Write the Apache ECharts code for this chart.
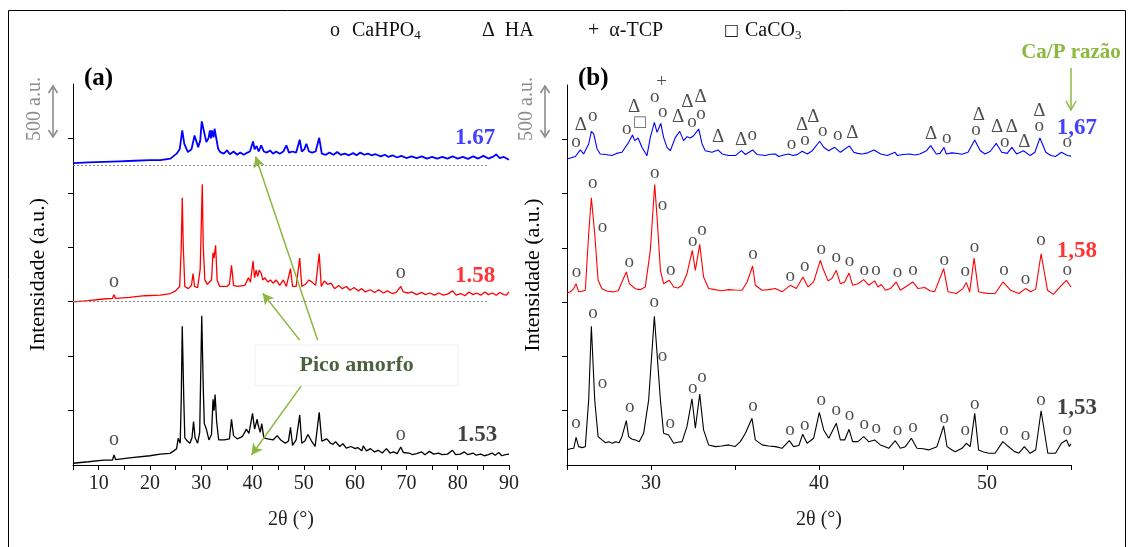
<!DOCTYPE html>
<html><head><meta charset="utf-8">
<script src="https://cdn.jsdelivr.net/npm/echarts@6/dist/echarts.min.js"></script>
<style>html,body{margin:0;padding:0;background:#fff}#c{width:1133px;height:547px}</style>
</head><body><div id="c"></div>
<script>
// ---------- DATA ----------
const SAMPLES_A = ['1.53', '1.58', '1.67'];
const SAMPLES_B = ['1,53', '1,58', '1,67'];
const X_TITLE = '2θ (°)';
const Y_TITLE = 'Intensidade (a.u.)';
const LEGEND = [['o', 'CaHPO', '4'], ['Δ', 'HA', ''], ['+', 'α-TCP', ''], ['□', 'CaCO', '3']];

// Panel (a): 2θ vs intensity (a.u., curves stacked with offsets)
const A_153 = [[5,16],[8,30],[11,45],[12.7,46],[13,92],[13.3,50],[16,65],[20,85],[22,100],[23.9,107],[24.5,125],[25.2,150],[25.5,245],[25.9,200],[26.1,600],[26.3,1275],[26.6,600],[26.8,250],[27.3,220],[27.8,200],[28.2,250],[28.5,398],[28.8,250],[29.3,200],[29.7,300],[30.1,1370],[30.4,700],[30.6,380],[31,330],[31.5,230],[32.0,280],[32.3,603],[32.5,500],[32.7,648],[33.0,400],[33.4,230],[34.5,230],[35.5,240],[35.9,419],[36.3,270],[37,240],[38,260],[38.8,330],[39.3,290],[40,474],[40.4,330],[40.9,420],[41.1,367],[41.5,300],[41.8,380],[42.2,250],[43,240],[44,230],[44.8,270],[45.5,230],[46.4,200],[47.0,220],[47.4,346],[47.8,180],[48.5,230],[49.2,459],[49.6,200],[50.2,220],[50.8,280],[51.5,220],[52.2,170],[53.0,483],[53.5,220],[54.5,240],[55.2,200],[55.7,190],[56.2,215],[57,170],[57.6,195],[58.3,155],[59.2,170],[60,150],[60.5,160],[61.3,130],[61.6,175],[62.2,130],[63,150],[63.8,120],[64.5,135],[65.3,110],[66.1,150],[66.8,110],[67.5,120],[68.2,105],[68.9,165],[69.4,115],[70.5,110],[71.2,95],[72,105],[73,120],[73.6,95],[74.5,125],[75.3,100],[76.2,110],[77,95],[78,100],[79,135],[79.6,95],[80.5,100],[81.3,120],[82,95],[83,110],[83.6,90],[84.5,100],[85.2,85],[86,95],[86.7,110],[87.3,90],[88,115],[88.6,85],[89.3,95],[90,100]];
const A_158 = [[5,1498],[8,1510],[11,1525],[12.7,1530],[13,1565],[13.3,1530],[16,1540],[19,1555],[22,1560],[24,1575],[25,1600],[25.8,1640],[26.1,2000],[26.3,2456],[26.5,2000],[26.8,1640],[27.5,1620],[28.1,1650],[28.4,1759],[28.7,1640],[29.3,1630],[29.8,1800],[30.2,2578],[30.4,2000],[30.7,1700],[31.2,1660],[32.0,1700],[32.3,1950],[32.5,1900],[32.8,2018],[33.1,1700],[33.6,1640],[35,1640],[35.5,1660],[35.9,1835],[36.3,1650],[37,1640],[38.5,1650],[39.2,1720],[39.6,1680],[40.1,1874],[40.4,1720],[40.7,1789],[41.0,1730],[41.3,1790],[41.7,1759],[42,1700],[42.4,1720],[43,1680],[43.5,1700],[44,1670],[44.6,1700],[45.3,1650],[46,1700],[46.6,1640],[47.4,1804],[47.8,1640],[48.5,1640],[49.2,1902],[49.6,1640],[50.3,1660],[51,1700],[51.6,1680],[52.3,1650],[53.0,1942],[53.4,1640],[54,1690],[54.6,1660],[55.3,1670],[56,1620],[56.8,1650],[57.5,1620],[58.3,1640],[59,1605],[59.8,1630],[60.6,1600],[61.3,1620],[62,1590],[63,1610],[63.8,1585],[64.6,1610],[65.5,1580],[66.3,1600],[67.2,1575],[68,1585],[68.9,1640],[69.4,1590],[70.3,1580],[71,1590],[72,1565],[73,1585],[73.7,1565],[74.5,1580],[75.5,1560],[76.3,1580],[77.2,1560],[78,1570],[79,1600],[79.7,1560],[80.6,1575],[81.4,1555],[82.2,1590],[83,1565],[83.7,1580],[84.5,1560],[85.3,1590],[86,1565],[86.8,1580],[87.5,1560],[88.2,1585],[89,1565],[89.5,1560],[90,1590]];
const A_167 = [[5,2773],[8,2780],[11,2785],[14,2790],[17,2795],[20,2800],[22,2800],[24,2814],[25.2,2860],[25.8,2900],[26.3,3073],[26.7,2950],[27.4,2874],[28.1,2900],[28.7,3027],[29.0,3040],[29.4,2920],[29.8,2980],[30.1,3156],[30.4,3150],[31,2966],[31.4,3000],[31.7,3073],[31.9,3000],[32.1,3073],[32.4,3010],[32.6,3089],[33.3,2905],[33.7,2874],[34.4,2860],[35,2890],[35.6,2855],[36.3,2880],[37,2850],[37.6,2870],[38.3,2850],[39,2870],[39.5,2880],[40.1,2972],[40.4,2900],[40.8,2930],[41.2,2880],[41.7,2936],[42.2,2880],[42.8,2870],[43.4,2890],[44,2860],[44.6,2880],[45.3,2860],[46,2880],[46.6,2936],[47.1,2870],[47.8,2880],[48.5,2870],[49.2,2988],[49.6,2880],[50.1,2900],[50.5,2951],[51,2880],[51.6,2870],[52.3,2880],[53,3006],[53.5,2860],[54.3,2850],[55,2870],[55.8,2850],[56.5,2875],[57.2,2850],[58,2860],[58.8,2845],[59.6,2865],[60.3,2845],[61,2870],[61.8,2850],[62.5,2860],[63.2,2845],[64,2855],[65,2835],[65.8,2850],[66.5,2830],[67.3,2845],[68.2,2825],[69,2840],[70,2820],[71,2835],[72,2820],[73,2835],[74,2815],[75,2830],[76,2815],[77,2830],[78,2815],[79,2835],[80,2815],[81,2830],[82,2812],[83,2835],[84,2815],[85,2840],[86,2815],[87,2835],[87.5,2853],[88.2,2820],[89,2830],[90,2804]];
const A_BASELINES = [1500, 2758];   // dotted reference baselines of 1.58 and 1.67
const A_BASE_END = 85.8;

// Panel (b): zoom 25–55°
const B_153 = [[25.0,139],[25.2,150],[25.4,154],[25.54,255],[25.69,169],[25.9,160],[26.09,169],[26.29,598],[26.45,1278],[26.65,598],[26.85,261],[27.08,231],[27.3,205],[27.48,215],[27.7,200],[27.88,215],[28.1,205],[28.27,261],[28.53,408],[28.67,261],[28.85,240],[29.07,231],[29.3,215],[29.56,292],[29.86,598],[30.2,1370],[30.36,1027],[30.56,598],[30.75,292],[31.05,276],[31.35,200],[31.6,210],[31.85,215],[32.14,353],[32.44,610],[32.64,338],[32.9,653],[33.13,323],[33.43,185],[33.83,169],[34.2,175],[34.62,185],[35.0,170],[35.32,215],[35.62,292],[36.01,430],[36.21,231],[36.61,185],[37.0,175],[37.4,169],[37.8,154],[38.23,224],[38.49,169],[38.8,180],[39.03,283],[39.29,200],[39.68,246],[40.02,485],[40.28,323],[40.58,246],[41.03,384],[41.27,231],[41.53,231],[41.79,329],[42.0,215],[42.32,215],[42.66,261],[42.96,215],[43.31,231],[43.65,185],[43.9,170],[44.15,154],[44.54,224],[44.84,154],[45.14,169],[45.5,246],[45.83,154],[46.2,150],[46.53,139],[47.02,169],[47.42,359],[47.62,169],[47.9,140],[48.11,123],[48.51,154],[48.77,200],[49.0,169],[49.27,476],[49.5,139],[49.8,120],[50.1,108],[50.48,108],[50.94,215],[51.2,180],[51.64,123],[51.9,110],[52.22,169],[52.57,108],[52.9,140],[53.22,500],[53.62,108],[54.08,108],[54.43,200],[54.73,231],[54.9,170],[55.0,195]];
const B_158 = [[25.0,1585],[25.2,1595],[25.4,1625],[25.54,1670],[25.69,1595],[25.9,1600],[26.09,1609],[26.29,2130],[26.45,2461],[26.65,2130],[26.85,1701],[27.08,1623],[27.4,1600],[27.78,1595],[28.05,1605],[28.27,1686],[28.53,1778],[28.71,1670],[29.07,1623],[29.35,1615],[29.66,1640],[29.96,1977],[30.22,2583],[30.36,2283],[30.56,1793],[30.75,1670],[31.09,1701],[31.35,1640],[31.6,1630],[31.85,1656],[32.14,1762],[32.46,1977],[32.64,1793],[32.9,2032],[33.13,1731],[33.43,1626],[33.8,1615],[34.2,1605],[34.62,1615],[35.0,1612],[35.42,1609],[35.72,1686],[36.05,1833],[36.21,1656],[36.61,1609],[37.0,1615],[37.4,1625],[37.8,1595],[38.29,1655],[38.65,1625],[39.04,1731],[39.35,1640],[39.68,1686],[40.08,1885],[40.28,1793],[40.54,1696],[40.77,1717],[41.03,1793],[41.27,1670],[41.53,1686],[41.79,1768],[42.0,1656],[42.32,1670],[42.66,1707],[42.96,1656],[43.31,1696],[43.51,1640],[43.71,1663],[43.95,1609],[44.25,1625],[44.6,1686],[44.84,1609],[45.14,1640],[45.58,1686],[45.9,1625],[46.3,1635],[46.6,1605],[46.88,1595],[47.42,1808],[47.68,1595],[48.17,1579],[48.57,1625],[48.77,1680],[48.97,1595],[49.23,1906],[49.5,1595],[49.8,1585],[50.1,1579],[50.48,1579],[50.95,1686],[51.4,1610],[51.9,1579],[52.3,1625],[52.6,1595],[52.9,1620],[53.22,1946],[53.6,1610],[53.95,1572],[54.4,1650],[54.73,1701],[55.0,1640]];
const B_167 = [[25.0,2819],[25.25,2830],[25.5,2841],[25.79,2902],[25.99,2865],[26.29,2957],[26.45,3073],[26.59,3049],[26.79,2911],[26.98,2865],[27.3,2860],[27.68,2850],[27.95,2870],[28.27,2880],[28.67,2972],[28.9,3040],[29.03,2988],[29.23,3012],[29.46,2926],[29.76,2849],[29.96,3018],[30.2,3156],[30.36,3064],[30.58,3146],[30.75,3018],[30.95,2926],[31.15,2895],[31.45,3018],[31.71,3073],[31.94,2988],[32.14,3024],[32.34,3012],[32.54,3033],[32.84,3095],[33.04,2957],[33.23,2895],[33.63,2880],[33.99,2902],[34.23,2865],[34.62,2850],[35.02,2850],[35.38,2895],[35.62,2860],[36.05,2902],[36.31,2860],[36.8,2850],[37.1,2862],[37.4,2865],[37.6,2841],[37.9,2855],[38.2,2865],[38.45,2850],[38.7,2859],[39.0,2890],[39.3,2865],[39.6,2895],[40.04,2982],[40.28,2926],[40.58,2895],[40.93,2926],[41.27,2880],[41.81,2939],[42.07,2880],[42.3,2870],[42.57,2865],[42.9,2875],[43.27,2902],[43.67,2865],[44.07,2850],[44.53,2880],[44.67,2850],[45.0,2860],[45.4,2865],[45.7,2855],[46.0,2865],[46.4,2895],[46.65,2942],[46.98,2865],[47.2,2870],[47.44,2925],[47.58,2865],[47.9,2875],[48.17,2871],[48.5,2862],[48.87,2880],[49.27,2994],[49.6,2895],[49.89,2865],[50.2,2890],[50.55,2963],[50.87,2880],[51.2,2870],[51.48,2926],[51.76,2865],[52.17,2895],[52.57,2850],[52.85,2880],[53.15,3012],[53.5,2880],[53.8,2850],[54.08,2841],[54.43,2880],[54.78,2850],[55.0,2845]];

// Phase markers [2θ, height, symbol]
const A_MARKS = [[13,229,'o'],[13,1682,'o'],[68.9,275,'o'],[68.9,1764,'o']];
const B_MARKS_167 = [[25.54,2972,'o'],[25.83,3135,'Δ'],[26.53,3217,'o'],[28.55,3095,'o'],[29.0,3300,'Δ'],[29.35,3147,'□'],[30.23,3386,'o'],[30.63,3524,'+'],[30.7,3248,'o'],[31.62,3202,'Δ'],[32.16,3340,'Δ'],[32.95,3386,'Δ'],[32.44,3156,'o'],[32.98,3233,'o'],[34.0,3018,'Δ'],[35.36,2994,'Δ'],[36.03,3043,'o'],[38.37,2957,'o'],[39.17,2994,'o'],[39.0,3135,'Δ'],[39.66,3208,'Δ'],[40.22,3073,'o'],[41.11,3040,'o'],[41.98,3058,'Δ'],[46.67,3049,'Δ'],[47.6,3012,'o'],[49.35,3086,'o'],[49.52,3227,'Δ'],[50.6,3110,'Δ'],[51.48,3110,'Δ'],[51.06,2972,'o'],[52.22,2972,'Δ'],[53.11,3263,'Δ'],[53.11,3125,'o'],[54.78,2972,'o']];
const B_MARKS_158 = [[25.56,1777,'o'],[26.53,2595,'o'],[27.12,2191,'o'],[28.71,1869,'o'],[30.22,2688,'o'],[30.69,2399,'o'],[31.17,1799,'o'],[32.48,2062,'o'],[33.04,2161,'o'],[36.07,1940,'o'],[38.29,1738,'o'],[39.15,1829,'o'],[40.14,1993,'o'],[41.03,1918,'o'],[41.81,1875,'o'],[42.7,1799,'o'],[43.39,1793,'o'],[44.68,1778,'o'],[45.6,1793,'o'],[47.46,1891,'o'],[48.71,1784,'o'],[49.25,2007,'o'],[51.01,1793,'o'],[52.29,1717,'o'],[53.22,2069,'o'],[54.78,1793,'o']];
const B_MARKS_153 = [[25.54,384,'o'],[26.55,1404,'o'],[27.12,759,'o'],[28.73,531,'o'],[30.2,1502,'o'],[30.69,1002,'o'],[31.15,384,'o'],[32.48,705,'o'],[33.04,806,'o'],[36.07,543,'o'],[38.27,323,'o'],[39.15,368,'o'],[40.14,598,'o'],[41.03,506,'o'],[41.81,461,'o'],[42.7,378,'o'],[43.41,338,'o'],[44.68,323,'o'],[45.6,347,'o'],[47.46,430,'o'],[48.71,323,'o'],[49.27,561,'o'],[51.01,323,'o'],[52.29,277,'o'],[53.22,598,'o'],[54.78,323,'o']];

// Sample labels positions [2θ, height]
const A_LABEL_POS = [[83.8,275],[83.4,1734],[83.4,3000]];
const B_LABEL_POS = [[55.35,522],[55.35,1970],[55.35,3107]];
// "Pico amorfo" annotation: text anchor and arrows [from, to] in panel (a) coordinates
const PICO_TEXT = 'Pico amorfo';
const PICO_POS = [60.3, 917];
const PICO_ARROWS = [[[52.7,1147],[40.6,2835]], [[49.2,1147],[42.0,1578]], [[49.6,734],[39.8,92]]];

// ---------- CHART ----------
const SERIF = 'Liberation Serif';
const COLORS = ['#000000', '#ff0000', '#0000ff'];
const LABEL_COLORS = ['#111111', '#ff0000', '#1010ff'];
const GREEN = '#8cb83f';
const chart = echarts.init(document.getElementById('c'), null, {renderer: 'canvas'});

function xAxisCfg(idx, min, max) {
  return {
    type: 'value', gridIndex: idx, min: min, max: max, interval: 5,
    name: X_TITLE, nameLocation: 'middle', nameGap: 45,
    nameTextStyle: {fontFamily: SERIF, fontSize: 20, color: '#222'},
    axisLine: {lineStyle: {color: '#000', width: 1}},
    axisTick: {length: 5, lineStyle: {color: '#000'}},
    axisLabel: {fontFamily: SERIF, fontSize: 20, color: '#222', margin: 9,
      formatter: v => (v % 10 === 0 ? String(v) : '')},
    splitLine: {show: false}
  };
}
function yAxisCfg(idx, gap) {
  return {
    type: 'value', gridIndex: idx, min: 0, max: 3500, interval: 500,
    name: Y_TITLE, nameLocation: 'middle', nameGap: gap, nameRotate: 90,
    nameTextStyle: {fontFamily: SERIF, fontSize: 22, color: '#000'},
    axisLine: {show: true, lineStyle: {color: '#000', width: 1}},
    axisTick: {show: true, length: 5, customValues: [500,1000,1500,2000,2500,3000], lineStyle: {color: '#000'}},
    axisLabel: {show: false},
    splitLine: {show: false}
  };
}
function lineSeries(idx, data, color, width, extra) {
  return Object.assign({
    type: 'line', xAxisIndex: idx, yAxisIndex: idx, data: data, showSymbol: false, symbol: 'none',
    lineStyle: {color: color, width: width}, itemStyle: {color: color}, silent: true, z: 3
  }, extra || {});
}
function markSeries(idx, marks, size) {
  return {
    type: 'scatter', xAxisIndex: idx, yAxisIndex: idx, clip: false, silent: true, z: 5,
    symbolSize: 1, itemStyle: {color: 'rgba(0,0,0,0)'},
    data: marks.map(m => ({value: [m[0], m[1]], name: m[2]})),
    label: {show: true, position: 'inside', formatter: p => p.name,
      fontFamily: SERIF, fontSize: size, color: '#222'}
  };
}
function sampleLabelSeries(idx, pos, names) {
  return {
    type: 'scatter', xAxisIndex: idx, yAxisIndex: idx, clip: false, silent: true, z: 6,
    symbolSize: 1, itemStyle: {color: 'rgba(0,0,0,0)'},
    data: pos.map((p, i) => ({value: p, name: names[i],
      label: {color: LABEL_COLORS[i]}})),
    label: {show: true, position: 'inside', formatter: p => p.name,
      fontFamily: SERIF, fontSize: 23, fontWeight: 'bold'}
  };
}

const baseLines = A_BASELINES.map(b => [{coord: [5, b]}, {coord: [A_BASE_END, b]}]);
const picoArrows = PICO_ARROWS.map(a => [{coord: a[0]}, {coord: a[1]}]);

const option = {
  animation: false,
  backgroundColor: '#ffffff',
  grid: [
    {left: 73, top: 84, width: 436, height: 381},
    {left: 567, top: 85, width: 504, height: 380}
  ],
  xAxis: [xAxisCfg(0, 5, 90), xAxisCfg(1, 25, 55)],
  yAxis: [yAxisCfg(0, 24), yAxisCfg(1, 23)],
  series: [
    lineSeries(0, A_153, COLORS[0], 1.3, {
      markLine: {silent: true, symbol: ['none', 'arrow'], symbolSize: [9, 11],
        lineStyle: {color: GREEN, width: 1.5, type: 'solid'}, label: {show: false},
        data: picoArrows}
    }),
    lineSeries(0, A_158, COLORS[1], 1.3, {
      markLine: {silent: true, symbol: ['none', 'none'],
        lineStyle: {color: '#888', width: 1, type: [2, 2]}, label: {show: false},
        data: baseLines}
    }),
    lineSeries(0, A_167, COLORS[2], 1.8),
    lineSeries(1, B_153, COLORS[0], 1.1),
    lineSeries(1, B_158, COLORS[1], 1.1),
    lineSeries(1, B_167, COLORS[2], 1.1),
    markSeries(0, A_MARKS, 20),
    markSeries(1, B_MARKS_153, 19),
    markSeries(1, B_MARKS_158, 19),
    markSeries(1, B_MARKS_167, 19),
    sampleLabelSeries(0, A_LABEL_POS, SAMPLES_A),
    sampleLabelSeries(1, B_LABEL_POS, SAMPLES_B),
    {
      type: 'scatter', xAxisIndex: 0, yAxisIndex: 0, silent: true, z: 8, clip: false,
      symbolSize: 1, itemStyle: {color: 'rgba(0,0,0,0)'},
      data: [{value: PICO_POS, name: PICO_TEXT}],
      label: {show: true, position: 'inside', formatter: p => p.name,
        fontFamily: SERIF, fontSize: 22, fontWeight: 'bold', color: '#1e3a0c',
        backgroundColor: '#ffffff', borderColor: '#f0f0f0', borderWidth: 1,
        padding: [9, 44, 9, 44]}
    }
  ],
  graphic: [
    {type: 'rect', shape: {x: 8.5, y: 10.5, width: 1117, height: 545}, style: {fill: 'none', stroke: '#000', lineWidth: 1}, silent: true},
    // legend row
    {type: 'text', left: 330, top: 21, style: {text: LEGEND[0][0], font: '20px ' + SERIF, fill: '#111'}},
    {type: 'text', left: 352, top: 21, style: {rich: {a: {font: '20px ' + SERIF, fill: '#111'}, s: {font: '13px ' + SERIF, fill: '#111', padding: [10, 0, 0, 0]}}, text: '{a|' + LEGEND[0][1] + '}{s|' + LEGEND[0][2] + '}'}},
    {type: 'text', left: 482, top: 21, style: {text: LEGEND[1][0] + '  ' + LEGEND[1][1], font: '20px ' + SERIF, fill: '#111'}},
    {type: 'text', left: 588, top: 21, style: {text: LEGEND[2][0] + '  ' + LEGEND[2][1], font: '20px ' + SERIF, fill: '#111'}},
    {type: 'text', left: 724, top: 23, style: {text: LEGEND[3][0], font: '16px DejaVu Sans', fill: '#222'}},
    {type: 'text', left: 745, top: 21, style: {rich: {a: {font: '20px ' + SERIF, fill: '#111'}, s: {font: '13px ' + SERIF, fill: '#111', padding: [10, 0, 0, 0]}}, text: '{a|' + LEGEND[3][1] + '}{s|' + LEGEND[3][2] + '}'}},
    // panel tags
    {type: 'text', left: 84, top: 66, style: {text: '(a)', font: 'bold 25px ' + SERIF, fill: '#000'}},
    {type: 'text', left: 578, top: 66, style: {text: '(b)', font: 'bold 25px ' + SERIF, fill: '#000'}},
    // 500 a.u. scale bars
    {type: 'text', x: 35, y: 109, rotation: Math.PI / 2, style: {text: '500 a.u.', font: '20px ' + SERIF, fill: '#8c8c8c', align: 'center', verticalAlign: 'middle'}},
    {type: 'polyline', shape: {points: [[53, 86], [53, 137]]}, style: {stroke: '#8c8c8c', lineWidth: 1.6}},
    {type: 'polyline', shape: {points: [[48.5, 93], [53, 86], [57.5, 93]]}, style: {stroke: '#8c8c8c', lineWidth: 1.6, fill: 'none'}},
    {type: 'polyline', shape: {points: [[48.5, 130], [53, 137], [57.5, 130]]}, style: {stroke: '#8c8c8c', lineWidth: 1.6, fill: 'none'}},
    {type: 'text', x: 527, y: 109, rotation: Math.PI / 2, style: {text: '500 a.u.', font: '20px ' + SERIF, fill: '#8c8c8c', align: 'center', verticalAlign: 'middle'}},
    {type: 'polyline', shape: {points: [[545, 86], [545, 137]]}, style: {stroke: '#8c8c8c', lineWidth: 1.6}},
    {type: 'polyline', shape: {points: [[540.5, 93], [545, 86], [549.5, 93]]}, style: {stroke: '#8c8c8c', lineWidth: 1.6, fill: 'none'}},
    {type: 'polyline', shape: {points: [[540.5, 130], [545, 137], [549.5, 130]]}, style: {stroke: '#8c8c8c', lineWidth: 1.6, fill: 'none'}},
    // Ca/P razão
    {type: 'text', x: 1071, y: 53, style: {text: 'Ca/P razão', font: 'bold 21px ' + SERIF, fill: GREEN, align: 'center', verticalAlign: 'middle'}},
    {type: 'polyline', shape: {points: [[1071, 68], [1071, 110]]}, style: {stroke: GREEN, lineWidth: 1.5}},
    {type: 'polyline', shape: {points: [[1066, 101], [1071, 110], [1076, 101]]}, style: {stroke: GREEN, lineWidth: 1.5, fill: 'none'}}
  ]
};
chart.setOption(option);
</script>
</body></html>
